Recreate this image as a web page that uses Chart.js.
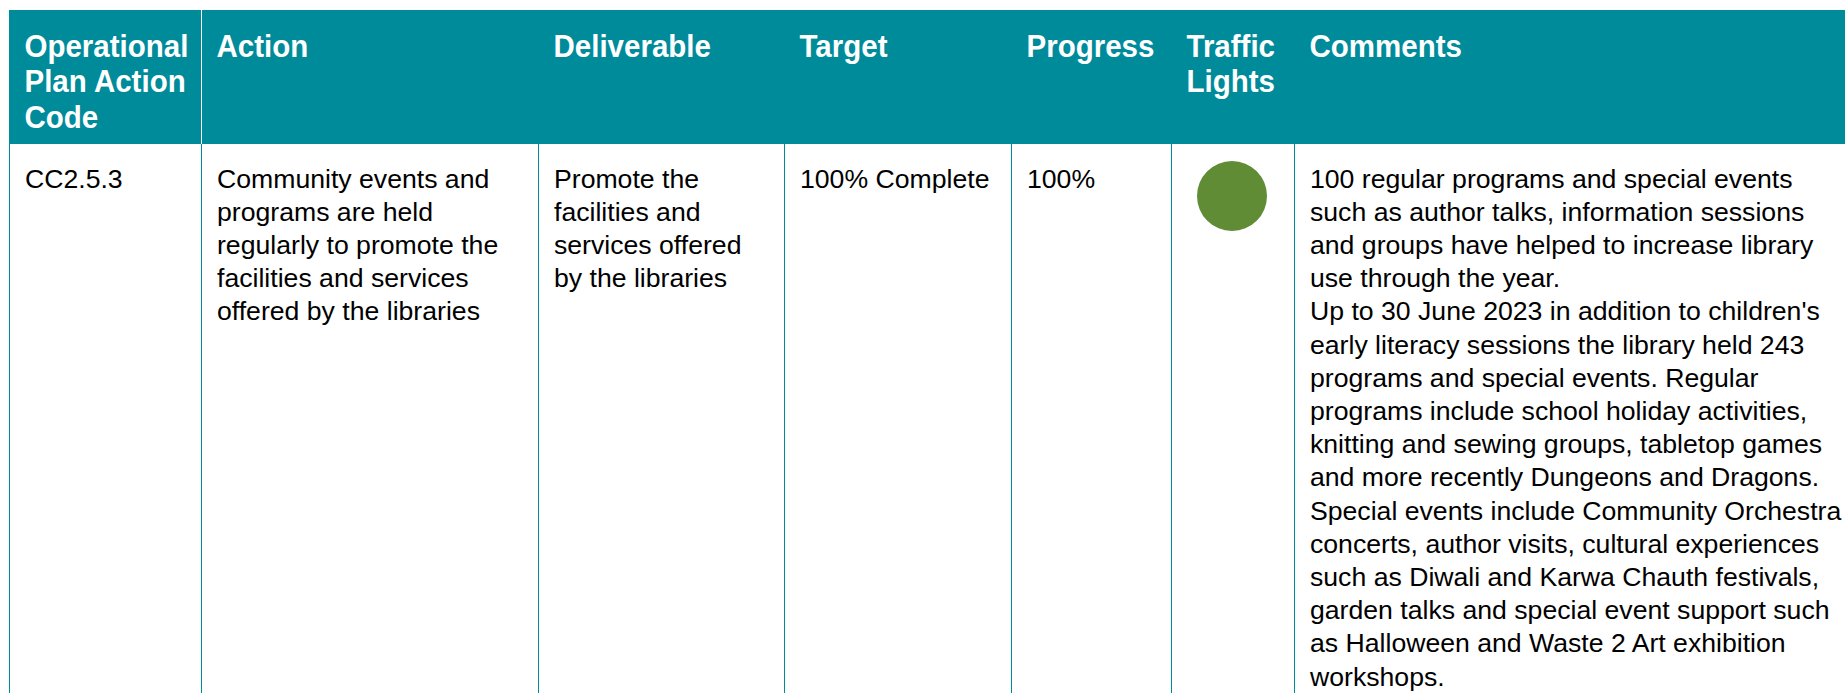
<!DOCTYPE html>
<html>
<head>
<meta charset="utf-8">
<script src="https://cdn.jsdelivr.net/npm/chart.js@4.4.0/dist/chart.umd.min.js"></script>
<style>
  body { margin: 0; width: 1845px; height: 693px; overflow: hidden; background: #fff; position: relative;
         font-family: "Liberation Sans", Arial, sans-serif; }
  .hd { position: absolute; left: 9px; top: 10px; width: 1836px; height: 134px; background: #008b9b; }
  .vl { position: absolute; width: 1px; background: #008b9b; }
  .th { position: absolute; color: #fff; font-weight: bold; font-size: 29.5px; line-height: 34px; white-space: nowrap;
        transform: scaleY(1.04); transform-origin: 0 0; }
  .td { position: absolute; color: #000; font-size: 25px; line-height: 33.2px; white-space: nowrap;
        transform: scaleX(1.065); transform-origin: 0 0; }
  #light { position: absolute; left: 1197px; top: 161px; width: 70px; height: 70px; }
</style>
</head>
<body>
<div class="hd"></div>
<div id="light"><canvas id="lightChart" width="70" height="70"></canvas></div>

<script>
// table content
const headers = [
  ['Operational', 'Plan Action', 'Code'],
  ['Action'],
  ['Deliverable'],
  ['Target'],
  ['Progress'],
  ['Traffic', 'Lights'],
  ['Comments']
];
const code = ['CC2.5.3'];
const action = ['Community events and', 'programs are held', 'regularly to promote the',
                'facilities and services', 'offered by the libraries'];
const deliverable = ['Promote the', 'facilities and', 'services offered', 'by the libraries'];
const target = ['100% Complete'];
const progress = [100];
const trafficLight = ['#5f8c35'];
const comments = [
  '100 regular programs and special events',
  'such as author talks, information sessions',
  'and groups have helped to increase library',
  'use through the year.',
  "Up to 30 June 2023 in addition to children's",
  'early literacy sessions the library held 243',
  'programs and special events. Regular',
  'programs include school holiday activities,',
  'knitting and sewing groups, tabletop games',
  'and more recently Dungeons and Dragons.',
  'Special events include Community Orchestra',
  'concerts, author visits, cultural experiences',
  'such as Diwali and Karwa Chauth festivals,',
  'garden talks and special event support such',
  'as Halloween and Waste 2 Art exhibition',
  'workshops.'
];

// layout
const colLeft = [9, 201, 538, 784, 1011, 1171, 1294];
const pad = 15.5;
const headTop = 28.5;
const bodyTop = 162.5;

function add(cls, x, y, lines) {
  const d = document.createElement('div');
  d.className = cls;
  d.style.left = x + 'px';
  d.style.top = y + 'px';
  d.innerHTML = lines.map(s => s.replace(/&/g, '&amp;')).join('<br>');
  document.body.appendChild(d);
}
function vline(x, y0, y1, color) {
  const d = document.createElement('div');
  d.className = 'vl';
  d.style.left = x + 'px';
  d.style.top = y0 + 'px';
  d.style.height = (y1 - y0) + 'px';
  if (color) d.style.background = color;
  document.body.appendChild(d);
}

// grid lines
vline(colLeft[0], 10, 693);
vline(colLeft[1], 10, 144, '#ffffff');
colLeft.slice(1).forEach(x => vline(x, 144, 693));

// header and body text
headers.forEach((h, i) => add('th', colLeft[i] + pad, headTop, h));
const cells = [code, action, deliverable, target, progress.map(v => v + '%'), [], comments];
cells.forEach((c, i) => { if (c.length) add('td', colLeft[i] + pad, bodyTop, c); });

// traffic light
new Chart(document.getElementById('lightChart').getContext('2d'), {
  type: 'pie',
  data: {
    labels: ['Progress'],
    datasets: [{ data: progress, backgroundColor: trafficLight, borderWidth: 0 }]
  },
  options: {
    responsive: false,
    animation: false,
    events: [],
    layout: { padding: 0 },
    plugins: { legend: { display: false }, tooltip: { enabled: false } }
  }
});
</script>
</body>
</html>
